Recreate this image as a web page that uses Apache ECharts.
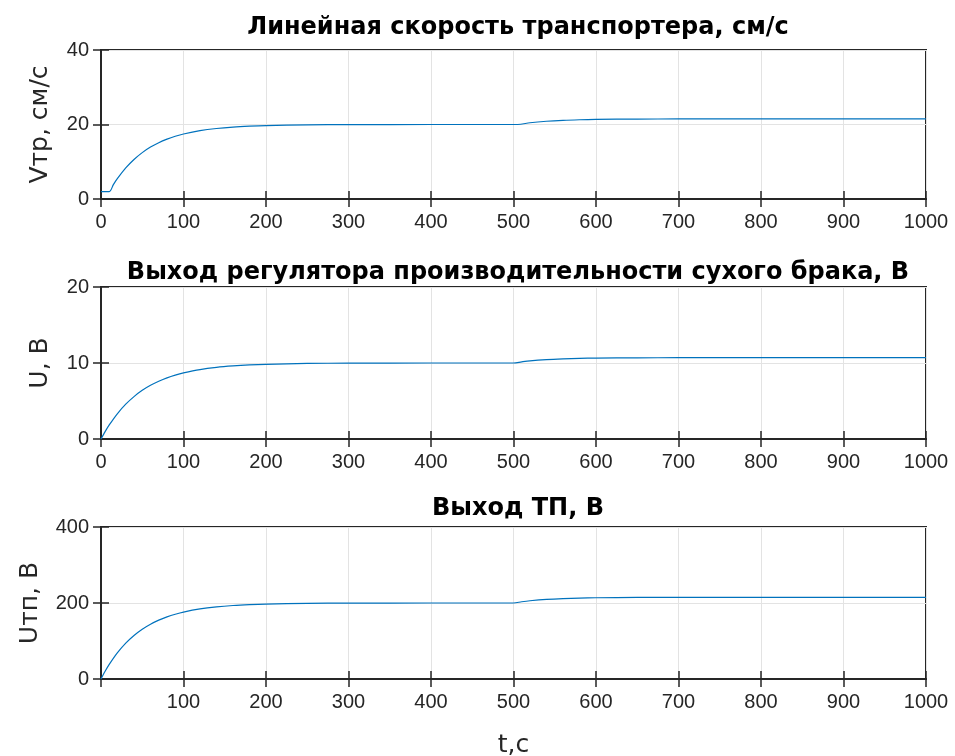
<!DOCTYPE html>
<html>
<head>
<meta charset="utf-8">
<script src="https://cdn.jsdelivr.net/npm/echarts@6/dist/echarts.min.js"></script>
<style>html,body{margin:0;padding:0;background:#fff}#c{width:955px;height:756px}</style>
</head>
<body>
<div id="c"></div>
<script>
// time samples (s)
const tTop = [0,10,15,20,30,40,50,60,70,80,90,100,120,140,160,180,200,250,300,400,505,520,540,560,580,600,650,700,800,900,1000];
const vTop = [2,2,3.85,5.51,8.35,10.62,12.45,13.93,15.12,16.07,16.84,17.46,18.35,18.93,19.31,19.55,19.71,19.90,19.97,20.0,20.0,20.47,20.87,21.12,21.27,21.36,21.46,21.49,21.5,21.5,21.5];

const tMid = [0,5,10,20,30,40,50,60,70,80,90,100,120,140,160,180,200,250,300,400,500,510,520,540,560,580,600,650,700,800,1000];
const vMid = [0,0.97,1.85,3.35,4.58,5.58,6.40,7.06,7.60,8.05,8.41,8.70,9.14,9.43,9.62,9.75,9.83,9.94,9.98,10.0,10.0,10.15,10.28,10.44,10.54,10.61,10.64,10.68,10.7,10.7,10.7];

const tBot = [0,5,10,20,30,40,50,60,70,80,90,100,120,140,160,180,200,250,300,400,500,510,520,540,560,580,600,650,700,800,1000];
const vBot = [0,20.2,38.4,69.3,94.4,114.6,131.0,144.2,154.9,163.5,170.5,176.2,184.4,189.8,193.4,195.7,197.2,199.0,199.7,200,200,203.3,205.9,209.5,211.7,213.0,213.8,214.6,215,215,215];

const titles = ['Линейная скорость транспортера, см/с','Выход регулятора производительности сухого брака, В','Выход ТП, В'];
const yNames = ['Vтр, см/с','U, В','Uтп, В'];
const yMax = [40,20,400];
const yInt = [20,10,200];
const xLabel = 't,c';

const FONT = 'Liberation Sans';
const FONT2 = 'DejaVu Sans';
const AX = '#262626';
const grids = [
  {left:101, top:50, width:825, height:149},
  {left:101, top:287, width:825, height:152},
  {left:101, top:527, width:825, height:152}
];
const nameGaps = [48,48,58];
const titleTops = [11,256,492];
const series = [tTop.map((t,i)=>[t,vTop[i]]), tMid.map((t,i)=>[t,vMid[i]]), tBot.map((t,i)=>[t,vBot[i]])];

const xAxis=[], yAxis=[], ser=[];
const tick = {show:true,inside:true,length:8,lineStyle:{color:AX,width:1.5}};
const aline = {show:true,lineStyle:{color:AX,width:2}};
grids.forEach((g,i)=>{
  g.show = true; g.borderColor = AX; g.borderWidth = 2; g.backgroundColor = '#fff';
  g.containLabel = false; g.outerBoundsMode = 'none';
  xAxis.push({
    type:'value', gridIndex:i, min:0, max:1000, interval:100,
    axisLine:aline, axisTick:tick,
    splitLine:{show:true,lineStyle:{color:'#e3e3e3',width:1}},
    axisLabel:{show:true,color:AX,fontFamily:FONT,fontSize:20,margin:13,
      formatter: v => (i===2 && v===0) ? '' : String(v)},
    name: i===2 ? xLabel : '', nameLocation:'middle', nameGap:54,
    nameTextStyle:{color:AX,fontFamily:FONT2,fontSize:25}
  });
  xAxis.push({
    type:'value', gridIndex:i, min:0, max:1000, interval:100, position:'top',
    axisLine:aline, axisTick:tick,
    splitLine:{show:false}, axisLabel:{show:false}
  });
  yAxis.push({
    type:'value', gridIndex:i, min:0, max:yMax[i], interval:yInt[i],
    axisLine:aline, axisTick:tick,
    splitLine:{show:true,lineStyle:{color:'#e3e3e3',width:1}},
    axisLabel:{color:AX,fontFamily:FONT,fontSize:20,margin:12},
    name:yNames[i], nameLocation:'middle', nameGap:nameGaps[i], nameRotate:90,
    nameTextStyle:{color:AX,fontFamily:FONT2,fontSize:25}
  });
  yAxis.push({
    type:'value', gridIndex:i, min:0, max:yMax[i], interval:yInt[i], position:'right',
    axisLine:aline, axisTick:tick,
    splitLine:{show:false}, axisLabel:{show:false}
  });
  ser.push({
    type:'line', xAxisIndex:2*i, yAxisIndex:2*i, data:series[i],
    showSymbol:false, smooth:0.3, lineStyle:{color:'#0072BD',width:1.2}, z:5
  });
});

const chart = echarts.init(document.getElementById('c'), null, {renderer:'canvas'});
chart.setOption({
  backgroundColor:'#fff',
  animation:false,
  title: titles.map((t,i)=>({
    text:t, left:513, top:titleTops[i], textAlign:'center',
    textStyle:{fontFamily:FONT2,fontSize:24,fontWeight:'bold',color:'#000'}
  })),
  grid: grids,
  xAxis: xAxis,
  yAxis: yAxis,
  series: ser
});
</script>
</body>
</html>
